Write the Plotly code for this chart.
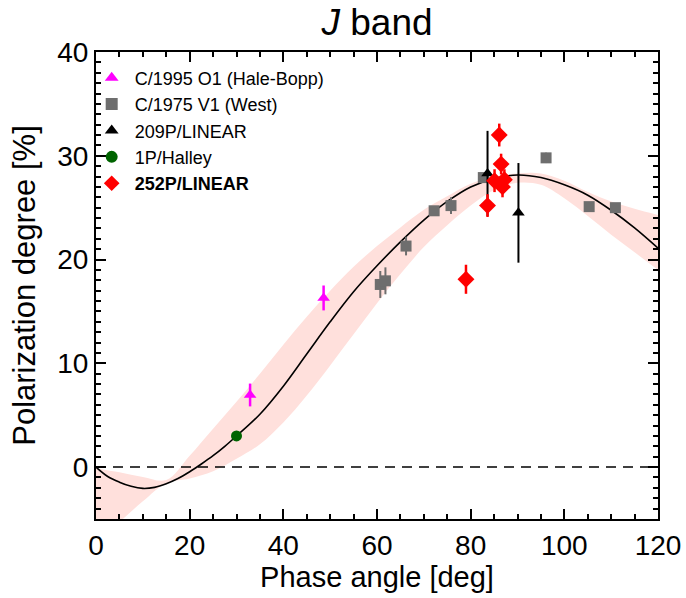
import plotly.graph_objects as go

# ---- data ----
fit_phase = [0, 2.5, 5, 7.5, 10, 12.5, 15, 17.5, 20, 22.5, 25, 27.5, 30, 35, 40, 45, 50,
             55, 60, 65, 70, 75, 80, 85, 90, 95, 100, 105, 110, 115, 120]
fit_pol = [0.0, -0.9, -1.45, -1.85, -2.05, -1.95, -1.6, -1.1, -0.45, 0.3, 1.1, 2.0, 3.0,
           5.1, 7.8, 10.9, 14.0, 16.9, 19.4, 21.7, 23.8, 25.6, 27.0, 27.8, 28.15, 27.9,
           27.2, 26.2, 24.75, 23.05, 21.1]

band_phase = [0, 5, 10, 15, 20, 25, 30, 35, 40, 45, 50, 55, 60, 65, 70, 75, 80, 85, 90,
              95, 100, 105, 110, 115, 120]
band_low = [-7.3, -5.3, -3.3, -1.55, -1.1, -0.4, 0.8, 2.2, 4.3, 6.9, 9.8, 12.8, 15.8,
            18.6, 21.2, 23.3, 25.2, 26.7, 27.4, 27.2, 25.9, 24.2, 22.4, 20.7, 19.0]
band_high = [-0.1, -0.5, -0.95, -1.25, 1.1, 3.7, 6.3, 9.0, 11.8, 14.5, 17.0, 19.3, 21.3,
             23.1, 24.8, 26.1, 27.3, 28.0, 28.3, 28.3, 27.6, 26.5, 25.6, 24.9, 24.3]

hb_phase = [32.9, 48.6]
hb_pol = [6.95, 16.3]
hb_err = [1.1, 1.2]

west_phase = [60.7, 61.8, 66.2, 72.2, 75.8, 82.7, 96.1, 105.3, 110.9]
west_pol = [17.6, 17.95, 21.3, 24.7, 25.2, 27.9, 29.8, 25.1, 25.0]
west_err = [1.3, 1.3, 0.9, 0.3, 0.8, 0.3, 0.5, 0.0, 0.0]

p209_phase = [83.6, 90.2]
p209_pol = [28.3, 24.5]
p209_err = [4.1, 4.8]

halley_phase = [30.0]
halley_pol = [3.0]

p252_phase = [79.0, 83.6, 85.1, 86.1, 86.5, 86.8, 87.2]
p252_pol = [18.1, 25.2, 27.6, 32.0, 29.2, 27.0, 27.7]
p252_err = [1.4, 1.1, 1.1, 1.1, 1.0, 1.0, 1.0]

zero_x = [0, 120]
zero_y = [0, 0]

FONT = "Liberation Sans, Arial, Helvetica, sans-serif"

fig = go.Figure()

# shaded band
fig.add_trace(go.Scatter(x=band_phase, y=band_low, mode="lines",
                         line=dict(width=0, shape="spline", color="rgba(0,0,0,0)"),
                         showlegend=False, hoverinfo="skip"))
fig.add_trace(go.Scatter(x=band_phase, y=band_high, mode="lines", fill="tonexty",
                         fillcolor="rgb(255,224,220)",
                         line=dict(width=0, shape="spline", color="rgba(0,0,0,0)"),
                         showlegend=False, hoverinfo="skip"))
# zero line
fig.add_trace(go.Scatter(x=zero_x, y=zero_y, mode="lines",
                         line=dict(color="black", width=1.5, dash="10px,7px"),
                         showlegend=False))
# fit curve
fig.add_trace(go.Scatter(x=fit_phase, y=fit_pol, mode="lines",
                         line=dict(color="black", width=1.6, shape="spline"),
                         showlegend=False))

fig.add_trace(go.Scatter(
    x=hb_phase, y=hb_pol, mode="markers", name="C/1995 O1 (Hale-Bopp)",
    marker=dict(symbol="triangle-up", size=11, color="#FF00FF"),
    error_y=dict(type="data", array=hb_err, width=0, thickness=2.5, color="#FF00FF")))
fig.add_trace(go.Scatter(
    x=west_phase, y=west_pol, mode="markers", name="C/1975 V1 (West)",
    marker=dict(symbol="square", size=11, color="#6E6E6E"),
    error_y=dict(type="data", array=west_err, width=0, thickness=2, color="#6E6E6E")))
fig.add_trace(go.Scatter(
    x=p209_phase, y=p209_pol, mode="markers", name="209P/LINEAR",
    marker=dict(symbol="triangle-up", size=11, color="black"),
    error_y=dict(type="data", array=p209_err, width=0, thickness=2, color="black")))
fig.add_trace(go.Scatter(
    x=halley_phase, y=halley_pol, mode="markers", name="1P/Halley",
    marker=dict(symbol="circle", size=11, color="#006400")))
fig.add_trace(go.Scatter(
    x=p252_phase, y=p252_pol, mode="markers", name="<b>252P/LINEAR</b>",
    marker=dict(symbol="diamond", size=13, color="#FF0000"),
    error_y=dict(type="data", array=p252_err, width=0, thickness=2.5, color="#FF0000")))

axis_common = dict(
    showgrid=False, zeroline=False, showline=True, linecolor="black", linewidth=2,
    mirror="ticks", ticks="inside", tickcolor="black", tickwidth=2, ticklen=10,
    tickfont=dict(family=FONT, size=28, color="black"), automargin=False,
)

fig.update_xaxes(range=[0, 120], tick0=0, dtick=20,
                 minor=dict(dtick=5, ticks="inside", ticklen=5, tickwidth=2, tickcolor="black"),
                 title=dict(text="Phase angle [deg]", font=dict(family=FONT, size=29, color="black"),
                            standoff=0),
                 **axis_common)
fig.update_yaxes(range=[-5, 40], tick0=0, dtick=10,
                 minor=dict(dtick=1, ticks="inside", ticklen=5, tickwidth=2, tickcolor="black"),
                 title=dict(text="Polarization degree [%]", font=dict(family=FONT, size=31, color="black"),
                            standoff=12),
                 **axis_common)

fig.update_layout(
    width=686, height=598,
    margin=dict(l=96, r=28, t=52, b=79, pad=0, autoexpand=False),
    plot_bgcolor="white", paper_bgcolor="white",
    font=dict(family=FONT, color="black"),
    title=dict(text="<i>J</i> band", x=0.5, xref="paper", xanchor="center",
               y=1 - 22 / 598, yref="container", yanchor="middle",
               font=dict(family=FONT, size=37, color="black"), automargin=False),
    legend=dict(x=-0.013, y=0.984, xanchor="left", yanchor="top", bgcolor="rgba(0,0,0,0)",
                font=dict(family=FONT, size=18, color="black"), itemsizing="constant",
                traceorder="normal", itemwidth=36, tracegroupgap=0),
    showlegend=True,
)

fig.write_html("out.html", config={"displayModeBar": False},
               post_script="document.body.style.margin='0';document.body.style.padding='0';")
